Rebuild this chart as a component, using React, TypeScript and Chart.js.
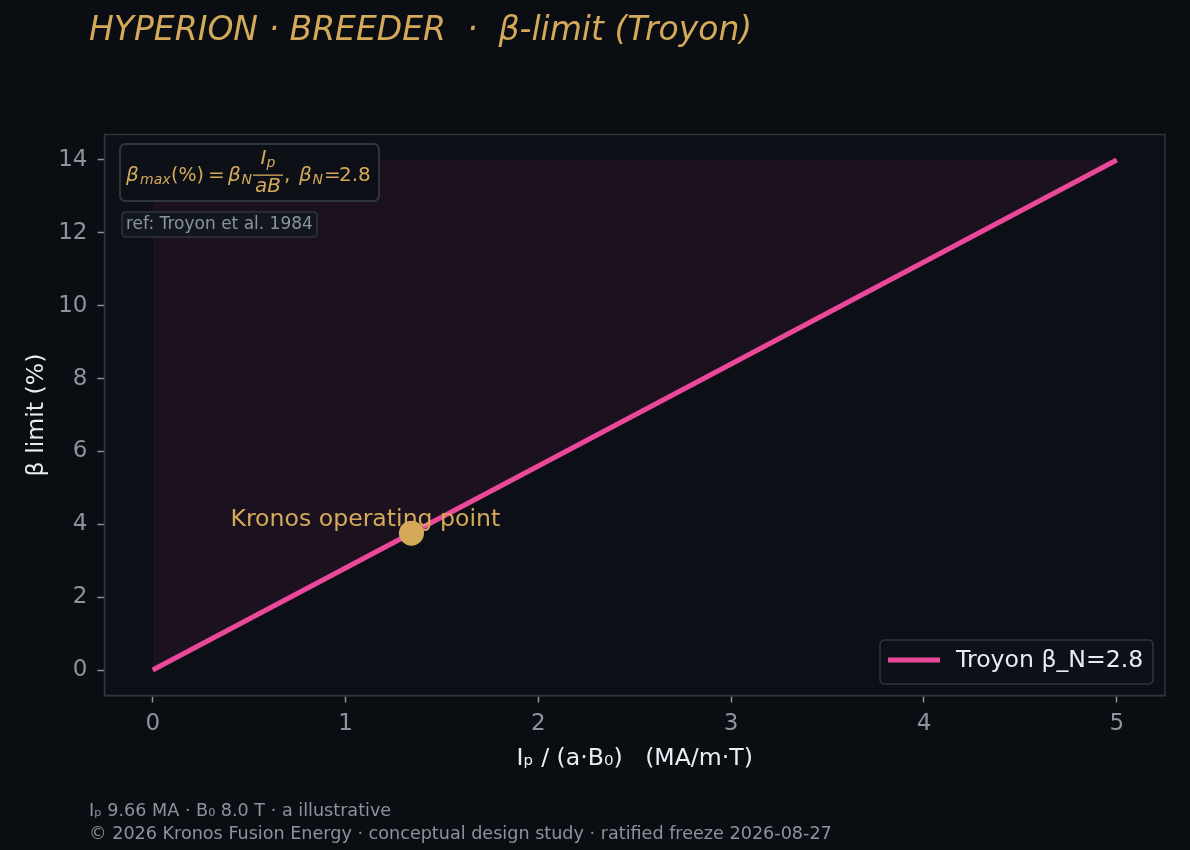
import React, { useEffect, useRef } from "react";
import { Chart, registerables } from "chart.js";

Chart.register(...registerables);

// ---- data ----
const lineX = [0, 5];
const lineY = [0, 14];
const opX = [1.342];
const opY = [3.757];
const fillTop = 14;
const xTicks = [0, 1, 2, 3, 4, 5];
const yTicks = [0, 2, 4, 6, 8, 10, 12, 14];
const xRange = [-0.25, 5.25];
const yRange = [-0.7, 14.7];

const titleText = "HYPERION · BREEDER  ·  β-limit (Troyon)";
const xTitle = "Iₚ / (a·B₀)   (MA/m·T)";
const yTitle = "β limit (%)";
const legendLabel = "Troyon β_N=2.8";
const annotationText = "Kronos operating point";
const refText = "ref: Troyon et al. 1984";
const footerLines = [
  "Iₚ 9.66 MA · B₀ 8.0 T · a illustrative",
  "© 2026 Kronos Fusion Energy · conceptual design study · ratified freeze 2026-08-27",
];

// ---- styles ----
const FONT = "DejaVu Sans";
const BG = "#0a0d12";
const PLOT_BG = "#0c0f16";
const SPINE = "#2f353d";
const TICK = "#8b949e";
const LIGHT = "#e6edf3";
const GOLD = "#d4aa5a";
const PINK = "#ec4899";
const FILL = "rgba(236,72,153,0.07)";

function roundRect(ctx: CanvasRenderingContext2D, x: number, y: number, w: number, h: number, r: number) {
  ctx.beginPath();
  ctx.moveTo(x + r, y);
  ctx.lineTo(x + w - r, y);
  ctx.quadraticCurveTo(x + w, y, x + w, y + r);
  ctx.lineTo(x + w, y + h - r);
  ctx.quadraticCurveTo(x + w, y + h, x + w - r, y + h);
  ctx.lineTo(x + r, y + h);
  ctx.quadraticCurveTo(x, y + h, x, y + h - r);
  ctx.lineTo(x, y + r);
  ctx.quadraticCurveTo(x, y, x + r, y);
  ctx.closePath();
}

function drawFormula(ctx: CanvasRenderingContext2D, ox: number, base: number) {
  const F = 20;
  const S = 14;
  const put = (t: string, x: number, size: number, italic: boolean, y: number) => {
    ctx.font = `${italic ? "italic " : ""}${size}px ${FONT}`;
    ctx.fillText(t, ox + x, y);
  };
  ctx.fillStyle = GOLD;
  ctx.textAlign = "left";
  ctx.textBaseline = "alphabetic";
  const sub = base + 2.5;
  put("β", -1, F, true, base);
  put("max", 13, S, true, sub);
  put("(%)", 44, 19, false, base);
  put("=", 81, F, false, base);
  put("β", 101, F, true, base);
  put("N", 114.5, S, true, sub);
  // fraction
  const fx = ox + 126;
  const fw = 30;
  ctx.font = `italic ${F}px ${FONT}`;
  const wI = ctx.measureText("I").width;
  ctx.font = `italic ${S}px ${FONT}`;
  const wp = ctx.measureText("p").width;
  ctx.font = `italic ${F}px ${FONT}`;
  const wD = ctx.measureText("aB").width;
  const wN = wI + wp;
  ctx.font = `italic ${F}px ${FONT}`;
  ctx.fillText("I", fx + (fw - wN) / 2, base - 17);
  ctx.font = `italic ${S}px ${FONT}`;
  ctx.fillText("p", fx + (fw - wN) / 2 + wI, base - 14);
  ctx.font = `italic ${F}px ${FONT}`;
  ctx.fillText("aB", fx + (fw - wD) / 2, base + 11);
  ctx.fillRect(fx, base - 6.5, fw, 1.3);
  put(",", 157, F, false, base);
  put("β", 172, F, true, base);
  put("N", 185.5, S, true, sub);
  put("=", 197, F, false, base);
  put("2.8", 212, F, false, base);
}

const decoPlugin = {
  id: "deco",
  beforeDraw(chart: any) {
    const { ctx, chartArea: a } = chart;
    ctx.save();
    ctx.fillStyle = BG;
    ctx.fillRect(0, 0, chart.width, chart.height);
    ctx.fillStyle = PLOT_BG;
    ctx.fillRect(a.left, a.top, a.right - a.left, a.bottom - a.top);
    ctx.restore();
  },
  afterDraw(chart: any) {
    const { ctx, chartArea: a } = chart;
    const xs = chart.scales.x;
    const ys = chart.scales.y;
    ctx.save();

    // spines
    ctx.strokeStyle = SPINE;
    ctx.lineWidth = 1.5;
    ctx.strokeRect(a.left, a.top, a.right - a.left, a.bottom - a.top);

    // title
    ctx.fillStyle = GOLD;
    ctx.font = `italic 33px ${FONT}`;
    ctx.textAlign = "left";
    ctx.textBaseline = "alphabetic";
    ctx.fillText(titleText, 89, 40);

    // axis titles
    ctx.fillStyle = LIGHT;
    ctx.font = `23.6px ${FONT}`;
    ctx.textAlign = "center";
    ctx.fillText(xTitle, (a.left + a.right) / 2, 765);
    ctx.save();
    ctx.translate(37, (a.top + a.bottom) / 2);
    ctx.rotate(-Math.PI / 2);
    ctx.textBaseline = "middle";
    ctx.fillText(yTitle, 0, 0);
    ctx.restore();

    // footer
    ctx.fillStyle = TICK;
    ctx.font = `17.6px ${FONT}`;
    ctx.textAlign = "left";
    ctx.textBaseline = "alphabetic";
    ctx.fillText(footerLines[0], 89, 816);
    ctx.fillText(footerLines[1], 89, 839);

    // formula box
    roundRect(ctx, 120, 144, 259, 57, 6);
    ctx.fillStyle = "rgba(13,17,23,0.95)";
    ctx.fill();
    ctx.strokeStyle = SPINE;
    ctx.lineWidth = 2;
    ctx.stroke();
    drawFormula(ctx, 127, 181);

    // ref box
    roundRect(ctx, 122, 212, 195, 25, 4);
    ctx.fillStyle = "#12171e";
    ctx.fill();
    ctx.strokeStyle = SPINE;
    ctx.lineWidth = 1.5;
    ctx.stroke();
    ctx.fillStyle = TICK;
    ctx.font = `17px ${FONT}`;
    ctx.textBaseline = "middle";
    ctx.fillText(refText, 126, 225);

    // annotation text
    const px = xs.getPixelForValue(opX[0]);
    const py = ys.getPixelForValue(opY[0]);
    ctx.fillStyle = GOLD;
    ctx.font = `23.6px ${FONT}`;
    ctx.textBaseline = "alphabetic";
    ctx.fillText(annotationText, px - 181, py - 7);

    // legend
    roundRect(ctx, 880, 640, 273, 44, 5);
    ctx.fillStyle = "rgba(13,17,23,0.9)";
    ctx.fill();
    ctx.strokeStyle = SPINE;
    ctx.lineWidth = 1.5;
    ctx.stroke();
    ctx.strokeStyle = PINK;
    ctx.lineWidth = 5;
    ctx.beginPath();
    ctx.moveTo(888, 660);
    ctx.lineTo(940, 660);
    ctx.stroke();
    ctx.fillStyle = LIGHT;
    ctx.font = `23.6px ${FONT}`;
    ctx.textBaseline = "middle";
    ctx.fillText(legendLabel, 956, 661);

    ctx.restore();
  },
};

export default function App() {
  const ref = useRef<HTMLCanvasElement | null>(null);
  useEffect(() => {
    document.body.style.margin = "0";
    document.body.style.background = BG;
    const canvas = ref.current!;
    const chart = new Chart(canvas, {
      type: "line",
      data: {
        datasets: [
          {
            label: "op",
            data: opX.map((x, i) => ({ x, y: opY[i] })),
            showLine: false,
            pointRadius: 12.5,
            pointBackgroundColor: GOLD,
            pointBorderWidth: 0,
            order: 0,
          },
          {
            label: legendLabel,
            data: lineX.map((x, i) => ({ x, y: lineY[i] })),
            borderColor: PINK,
            borderWidth: 5,
            pointRadius: 0,
            backgroundColor: FILL,
            fill: { value: fillTop },
            tension: 0,
            order: 1,
          },
        ],
      },
      options: {
        animation: false,
        responsive: false,
        devicePixelRatio: 1,
        layout: { padding: { left: 0, top: 134.5, right: 25, bottom: 0 } },
        plugins: { legend: { display: false }, tooltip: { enabled: false }, title: { display: false } },
        scales: {
          x: {
            type: "linear",
            min: xRange[0],
            max: xRange[1],
            afterBuildTicks: (s: any) => {
              s.ticks = xTicks.map((v) => ({ value: v }));
            },
            afterFit: (s: any) => {
              s.height = 154.5;
            },
            ticks: {
              color: TICK,
              font: { family: FONT, size: 23 },
              padding: 7.5,
              callback: (v: any) => String(v),
            },
            grid: { drawOnChartArea: false, tickLength: 7, tickColor: TICK, tickWidth: 1.5 },
            border: { color: SPINE, width: 1.5 },
          },
          y: {
            type: "linear",
            min: yRange[0],
            max: yRange[1],
            afterBuildTicks: (s: any) => {
              s.ticks = yTicks.map((v) => ({ value: v }));
            },
            afterFit: (s: any) => {
              s.width = 104.5;
            },
            ticks: {
              color: TICK,
              font: { family: FONT, size: 23 },
              padding: 10,
              callback: (v: any) => String(v),
            },
            grid: { drawOnChartArea: false, tickLength: 7, tickColor: TICK, tickWidth: 1.5 },
            border: { color: SPINE, width: 1.5 },
          },
        },
      },
      plugins: [decoPlugin],
    } as any);
    return () => chart.destroy();
  }, []);
  return <canvas ref={ref} width={1190} height={850} style={{ display: "block", width: 1190, height: 850 }} />;
}
